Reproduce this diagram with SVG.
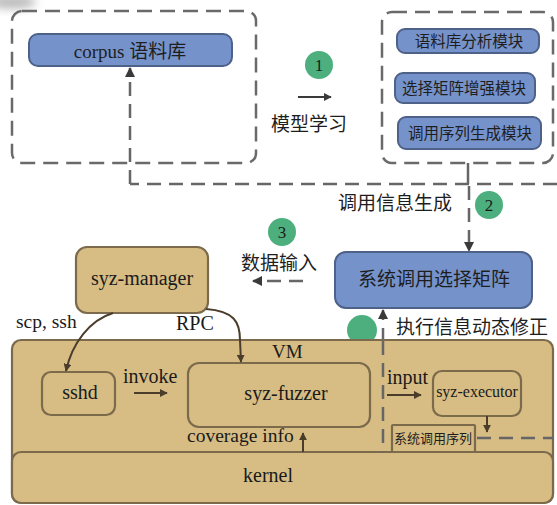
<svg xmlns="http://www.w3.org/2000/svg" width="557" height="505" viewBox="0 0 557 505">
  <defs>
    <marker id="ah" viewBox="0 0 10 10" refX="9" refY="5" markerWidth="4" markerHeight="4" orient="auto" markerUnits="strokeWidth">
      <path d="M0,0 L10,5 L0,10 z" fill="#3a3a3a"/>
    </marker>
    <marker id="ahb" viewBox="0 0 10 10" refX="9" refY="5" markerWidth="4" markerHeight="4" orient="auto" markerUnits="strokeWidth">
      <path d="M0,0 L10,5 L0,10 z" fill="#4a3d2c"/>
    </marker>
    <filter id="soft" x="-50%" y="-50%" width="200%" height="200%">
      <feGaussianBlur stdDeviation="4"/>
    </filter>
  </defs>
  <style>
    .frame { fill: none; stroke: #6a6a6a; stroke-width: 2.5; stroke-dasharray: 15 8; }
    .dash { fill: none; stroke: #666; stroke-width: 2.5; stroke-dasharray: 14 8; }
    .blue { fill: #7592cb; stroke: #4d6189; stroke-width: 2; }
    .tan { fill: #d7bd84; stroke: #7b6a4b; stroke-width: 2.2; }
    .tan-in { fill: #d7bd84; stroke: #7b6a4b; stroke-width: 2.2; }
    .badge { fill: #4caf7d; }
    .wire { fill: none; stroke: #4a3d2c; stroke-width: 2; }
    .arrow { fill: none; stroke: #3a3a3a; stroke-width: 2; }
    .lat { font-family: "Liberation Serif", "Times New Roman", serif; fill: #1a1a1a; }
    .cjk { font-family: "Liberation Serif", "Noto Sans CJK SC", sans-serif; fill: #1e1e1e; }
  </style>

  <rect width="557" height="505" fill="#ffffff"/>
  <ellipse cx="12" cy="2" rx="24" ry="7" fill="#bdbdbd" filter="url(#soft)"/>

  <!-- learning stage frames -->
  <rect class="frame" x="12" y="11" width="244" height="152" rx="10"/>
  <rect class="frame" x="382" y="12" width="171" height="151" rx="10"/>

  <!-- connectors -->
  <g id="connectors">
    <!-- feedback path back into the corpus -->
    <path class="dash" d="M557,184 H130"/>
    <path class="dash" d="M130,184 V68" marker-end="url(#ah)"/>
    <path d="M468,163 V184" stroke="#666" stroke-width="2.5" fill="none"/>
    <!-- model learning -->
    <path class="arrow" d="M298,97 H331" marker-end="url(#ah)"/>
    <!-- call info generation -->
    <path class="dash" d="M469,186 V251" marker-end="url(#ah)"/>
    <!-- data input -->
    <path class="dash" d="M303,281 H253" stroke-dasharray="13 7" marker-end="url(#ah)"/>
    <!-- execution feedback -->
    <path class="dash" d="M383,452 V310" stroke-dasharray="14 7" stroke="#4a3d2c" marker-end="url(#ah)"/>
  </g>

  <!-- step badges -->
  <g id="badge-1"><circle class="badge" cx="319" cy="65" r="14"/><text class="lat" x="319" y="71" font-size="17" text-anchor="middle">1</text></g>
  <g id="badge-2"><circle class="badge" cx="489" cy="205" r="14"/><text class="lat" x="489" y="211" font-size="17" text-anchor="middle">2</text></g>
  <g id="badge-3"><circle class="badge" cx="282" cy="232" r="14"/><text class="lat" x="282" y="238" font-size="17" text-anchor="middle">3</text></g>
  <g id="badge-4"><circle class="badge" cx="362" cy="330" r="15"/></g>

  <!-- corpus -->
  <g id="corpus">
    <rect class="blue" x="29" y="34" width="203" height="32" rx="9"/>
    <text class="cjk" x="130" y="58" font-size="19" text-anchor="middle">corpus 语料库</text>
  </g>

  <!-- analysis modules -->
  <g id="module-corpus-analysis">
    <rect class="blue" x="397" y="29" width="142" height="24" rx="8"/>
    <text class="cjk" x="469" y="47" font-size="15.5" text-anchor="middle">语料库分析模块</text>
  </g>
  <g id="module-matrix-enhance">
    <rect class="blue" x="395" y="73" width="140" height="30" rx="8"/>
    <text class="cjk" x="464" y="94" font-size="15.5" text-anchor="middle">选择矩阵增强模块</text>
  </g>
  <g id="module-sequence-gen">
    <rect class="blue" x="398" y="117" width="143" height="32" rx="8"/>
    <text class="cjk" x="470" y="139" font-size="15.5" text-anchor="middle">调用序列生成模块</text>
  </g>

  <!-- stage labels -->
  <text class="cjk" x="309" y="131" font-size="19" text-anchor="middle">模型学习</text>
  <text class="cjk" x="395" y="210" font-size="19" text-anchor="middle">调用信息生成</text>
  <text class="cjk" x="279" y="270" font-size="19" text-anchor="middle">数据输入</text>
  <text class="cjk" x="472" y="334" font-size="19" text-anchor="middle">执行信息动态修正</text>

  <!-- selection matrix -->
  <g id="selection-matrix">
    <rect class="blue" x="335" y="252" width="197" height="56" rx="11"/>
    <text class="cjk" x="434" y="286" font-size="19" text-anchor="middle">系统调用选择矩阵</text>
  </g>

  <!-- manager -->
  <g id="syz-manager">
    <rect class="tan" x="76" y="247" width="132" height="66" rx="11"/>
    <text class="lat" x="142" y="285" font-size="20" text-anchor="middle">syz-manager</text>
  </g>
  <text class="lat" x="16" y="328" font-size="19.5">scp, ssh</text>
  <text class="lat" x="176" y="330" font-size="20">RPC</text>

  <!-- VM and kernel -->
  <g id="vm">
    <rect class="tan" x="12" y="340" width="541" height="163" rx="9"/>
    <text class="lat" x="272" y="358" font-size="19">VM</text>
  </g>
  <g id="kernel">
    <rect class="tan" x="12" y="452" width="541" height="51" rx="9"/>
    <text class="lat" x="268" y="482" font-size="20" text-anchor="middle">kernel</text>
  </g>

  <!-- redrawn over the VM fill -->
  <path class="dash" d="M383,341 V452" stroke-dasharray="14 7" stroke="#4a3d2c"/>

  <g id="sshd">
    <rect class="tan-in" x="42" y="372" width="73" height="43" rx="9"/>
    <text class="lat" x="80" y="399" font-size="20" text-anchor="middle">sshd</text>
  </g>
  <text class="lat" x="123" y="383" font-size="20">invoke</text>

  <g id="syz-fuzzer">
    <rect class="tan-in" x="188" y="363" width="182" height="64" rx="11"/>
    <text class="lat" x="286" y="400" font-size="20" text-anchor="middle">syz-fuzzer</text>
  </g>
  <text class="lat" x="187" y="442" font-size="19.5">coverage info</text>

  <text class="lat" x="387" y="384" font-size="20">input</text>
  <g id="syz-executor">
    <rect class="tan-in" x="433" y="371" width="88" height="45" rx="9"/>
    <text class="lat" x="477" y="397" font-size="16" text-anchor="middle">syz-executor</text>
  </g>

  <g id="syscall-sequence">
    <rect class="tan-in" x="392" y="425" width="83" height="27" rx="1"/>
    <text class="cjk" x="433" y="443" font-size="13" text-anchor="middle">系统调用序列</text>
  </g>

  <!-- VM internal connectors -->
  <g id="vm-connectors">
    <path class="wire" d="M113,313 C90,320 72,343 66,371" marker-end="url(#ahb)"/>
    <path class="wire" d="M206,309 C234,311 240,322 240,340 L241,362" marker-end="url(#ahb)"/>
    <path class="wire" d="M134,393 H167" marker-end="url(#ahb)"/>
    <path class="wire" d="M303,452 V433" marker-end="url(#ahb)"/>
    <path class="wire" d="M387,395 H421" marker-end="url(#ahb)"/>
    <path class="wire" d="M487,416 V432" marker-end="url(#ahb)"/>
    <path class="dash" d="M477,438 H553" stroke="#5a4a35" stroke-dasharray="13 8"/>
  </g>
</svg>
